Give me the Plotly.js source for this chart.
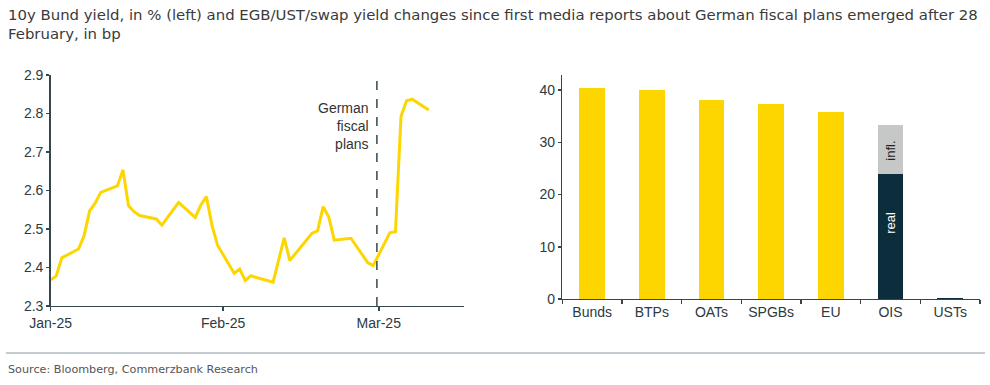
<!DOCTYPE html>
<html>
<head>
<meta charset="utf-8">
<script src="https://cdn.plot.ly/plotly-3.0.1.min.js"></script>
<style>
html,body{margin:0;padding:0;background:#fff;}
#chart{width:990px;height:385px;}
</style>
</head>
<body>
<div id="chart"></div>
<script>
// 10y Bund yield, %
const bundDates = [
  '2025-01-01','2025-01-02','2025-01-03','2025-01-06','2025-01-07','2025-01-08','2025-01-09','2025-01-10',
  '2025-01-13','2025-01-14','2025-01-15','2025-01-16','2025-01-17',
  '2025-01-20','2025-01-21','2025-01-22','2025-01-23','2025-01-24',
  '2025-01-27','2025-01-28','2025-01-29','2025-01-30','2025-01-31',
  '2025-02-03','2025-02-04','2025-02-05','2025-02-06','2025-02-07',
  '2025-02-10','2025-02-11','2025-02-12','2025-02-13','2025-02-14',
  '2025-02-17','2025-02-18','2025-02-19','2025-02-20','2025-02-21',
  '2025-02-24','2025-02-25','2025-02-26','2025-02-27','2025-02-28',
  '2025-03-03','2025-03-04','2025-03-05','2025-03-06','2025-03-07','2025-03-10'
];
const bundYield = [
  2.368,2.378,2.425,2.448,2.482,2.547,2.567,2.595,
  2.612,2.653,2.560,2.545,2.535,
  2.526,2.510,2.530,2.550,2.569,
  2.530,2.562,2.584,2.510,2.458,
  2.385,2.396,2.366,2.379,2.374,
  2.362,2.420,2.477,2.418,2.435,
  2.489,2.495,2.558,2.532,2.471,
  2.476,2.455,2.432,2.413,2.405,
  2.490,2.493,2.792,2.833,2.837,2.809
];
const xTickVals = ['2025-01-01','2025-02-01','2025-03-01'];
const xTickText = ['Jan-25','Feb-25','Mar-25'];
const eventDate = '2025-02-28 16:00';
const eventLabel = 'German<br>fiscal<br>plans';

// Yield changes since 28 Feb, bp
const barCats = ['Bunds','BTPs','OATs','SPGBs','EU','OIS','USTs'];
const govChange = [40.4, 40.1, 38.1, 37.4, 35.9, null, null];
const realChange = [null, null, null, null, null, 23.9, 0.2];
const inflChange = [null, null, null, null, null, 9.5, null];

const axisCol = '#34474f';
const txtCol = '#2b3a41';
const yellow = '#fdd600';
const navy = '#0c2e3c';
const grey = '#c6c8c8';
const tickFont = {family: 'Liberation Sans, Arial, sans-serif', size: 14, color: txtCol};

const traces = [
  {x: bundDates, y: bundYield, type: 'scatter', mode: 'lines',
   line: {color: yellow, width: 3}, xaxis: 'x', yaxis: 'y', hoverinfo: 'x+y'},
  {x: barCats, y: govChange, type: 'bar', marker: {color: yellow}, width: 0.43,
   xaxis: 'x2', yaxis: 'y2'},
  {x: barCats, y: realChange, type: 'bar', marker: {color: navy}, width: 0.43,
   xaxis: 'x2', yaxis: 'y2'},
  {x: barCats, y: inflChange, type: 'bar', marker: {color: grey}, width: 0.43,
   xaxis: 'x2', yaxis: 'y2'}
];

const layout = {
  width: 990, height: 385,
  margin: {l: 0, r: 0, t: 0, b: 0},
  paper_bgcolor: '#fff', plot_bgcolor: '#fff',
  showlegend: false,
  barmode: 'stack',
  font: tickFont,
  xaxis: {
    domain: [0.0512, 0.4687], type: 'date',
    range: ['2025-01-01', '2025-03-16 08:00'],
    tickmode: 'array', tickvals: xTickVals, ticktext: xTickText,
    showgrid: false, zeroline: false,
    showline: true, linecolor: axisCol, linewidth: 1.5,
    ticks: 'outside', ticklen: 4, tickcolor: axisCol, tickwidth: 1.5,
    tickfont: tickFont, anchor: 'y'
  },
  yaxis: {
    domain: [0.2052, 0.8052], range: [2.3, 2.9],
    dtick: 0.1, tickformat: '.1f',
    showgrid: false, zeroline: false,
    showline: true, linecolor: axisCol, linewidth: 1.5,
    ticks: 'outside', ticklen: 3, tickcolor: axisCol, tickwidth: 1.5,
    tickfont: tickFont, anchor: 'x'
  },
  xaxis2: {
    domain: [0.568, 0.9899], type: 'category',
    range: [-0.5, 6.5],
    showgrid: false, zeroline: false,
    showline: true, linecolor: axisCol, linewidth: 1.5,
    ticks: 'outside', ticklen: 4, tickcolor: axisCol, tickwidth: 1.5,
    tickson: 'boundaries',
    tickfont: tickFont, anchor: 'y2'
  },
  yaxis2: {
    domain: [0.2234, 0.8052], range: [0, 42.9],
    tickvals: [0, 10, 20, 30, 40],
    showgrid: false, zeroline: false,
    showline: true, linecolor: axisCol, linewidth: 1.5,
    ticks: 'outside', ticklen: 3, tickcolor: axisCol, tickwidth: 1.5,
    tickfont: tickFont, anchor: 'x2'
  },
  shapes: [
    {type: 'line', xref: 'x', yref: 'y', x0: eventDate, x1: eventDate, y0: 2.3, y1: 2.9,
     line: {color: axisCol, width: 1.5, dash: 'dash'}},
    {type: 'line', xref: 'paper', yref: 'paper', x0: 0.006, x1: 0.995, y0: 1 - 353/385, y1: 1 - 353/385,
     line: {color: '#8a9aa3', width: 1.2}}
  ],
  annotations: [
    {text: '10y Bund yield, in % (left) and EGB/UST/swap yield changes since first media reports about German fiscal plans emerged after 28<br>February, in bp',
     xref: 'paper', yref: 'paper', x: 0.006, y: 1 - 4/385, xanchor: 'left', yanchor: 'top', align: 'left',
     showarrow: false, font: {family: 'DejaVu Sans, sans-serif', size: 14.9, color: '#3a3a3a'}},
    {text: 'Source: Bloomberg, Commerzbank Research',
     xref: 'paper', yref: 'paper', x: 0.006, y: 1 - 369/385, xanchor: 'left', yanchor: 'middle',
     showarrow: false, font: {family: 'DejaVu Sans, sans-serif', size: 11.2, color: '#555'}},
    {text: eventLabel, xref: 'x', yref: 'y', x: eventDate, y: 2.84, xanchor: 'right', yanchor: 'top',
     xshift: -6, align: 'right', showarrow: false,
     font: {family: 'Liberation Sans, Arial, sans-serif', size: 14, color: '#333'}},
    {text: 'real', xref: 'x2', yref: 'y2', x: 'OIS', y: 14.5, textangle: -90, showarrow: false,
     font: {family: 'Liberation Sans, Arial, sans-serif', size: 13, color: '#fff'}},
    {text: 'infl.', xref: 'x2', yref: 'y2', x: 'OIS', y: 28.3, textangle: -90, showarrow: false,
     font: {family: 'Liberation Sans, Arial, sans-serif', size: 13, color: '#222'}}
  ]
};

Plotly.newPlot('chart', traces, layout, {staticPlot: true, displayModeBar: false});
</script>
</body>
</html>
